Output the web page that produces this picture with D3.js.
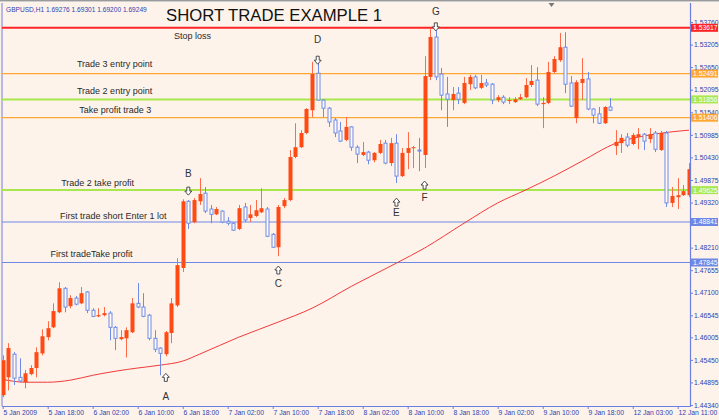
<!DOCTYPE html>
<html><head><meta charset="utf-8">
<script src="https://cdn.jsdelivr.net/npm/d3@7"></script>
<style>
html,body{margin:0;padding:0;background:#fdf3eb;}
svg{display:block;font-family:"Liberation Sans",Arial,sans-serif;}
</style></head><body>
<svg id="c" width="719" height="420"></svg>
<script>
// ---------- DATA ----------
const symbolHeader = "GBPUSD,H1  1.69276 1.69301 1.69200 1.69249";
const title = "SHORT TRADE EXAMPLE 1";

const open = [1.4458,1.4502,1.4559,1.4502,1.4490,1.4510,1.4525,1.4561,1.4601,1.4625,
1.4662,1.4721,1.4677,1.4697,1.4684,1.4712,1.4667,1.4652,1.4655,1.4660,
1.4625,1.4596,1.4598,1.4613,1.4684,1.4675,1.4655,1.4598,1.4574,1.4559,
1.4611,1.4679,1.4771,1.4935,1.4884,1.4935,1.4955,1.4916,1.4903,1.4911,
1.4886,1.4881,1.4867,1.4921,1.4894,1.4899,1.4908,1.4916,1.4854,1.4822,
1.4923,1.4938,1.5044,1.5068,1.5103,1.5159,1.5250,1.5184,1.5164,1.5135,
1.5108,1.5086,1.5118,1.5068,1.5049,1.5056,1.5036,1.5054,1.5078,1.5029,
1.5078,1.4997,1.5054,1.5066,1.5061,1.5049,1.5241,1.5339,1.5248,1.5199,
1.5184,1.5201,1.5177,1.5223,1.5241,1.5214,1.5226,1.5223,1.5184,1.5191,
1.5182,1.5179,1.5186,1.5191,1.5221,1.5233,1.5174,1.5177,1.5253,1.5282,
1.5314,1.5226,1.5140,1.5226,1.5236,1.5162,1.5150,1.5127,1.5167,1.5071,
1.5078,1.5093,1.5076,1.5093,1.5100,1.5088,1.5103,1.5061,1.5103,1.4931,
1.4945,1.4950,1.4950];
const high = [1.4556,1.4586,1.4564,1.4549,1.4520,1.4532,1.4576,1.4620,1.4640,1.4684,
1.4736,1.4724,1.4704,1.4702,1.4724,1.4714,1.4672,1.4672,1.4675,1.4665,
1.4628,1.4618,1.4625,1.4697,1.4734,1.4709,1.4658,1.4618,1.4576,1.4616,
1.4697,1.4795,1.4940,1.4938,1.4943,1.4992,1.4970,1.4926,1.4921,1.4913,
1.4896,1.4884,1.4926,1.4931,1.4926,1.4938,1.4967,1.4921,1.4857,1.4926,
1.4943,1.5061,1.5127,1.5110,1.5164,1.5278,1.5278,1.5186,1.5167,1.5140,
1.5130,1.5142,1.5120,1.5073,1.5081,1.5059,1.5056,1.5086,1.5086,1.5091,
1.5100,1.5066,1.5105,1.5071,1.5091,1.5292,1.5361,1.5369,1.5263,1.5241,
1.5216,1.5216,1.5241,1.5246,1.5246,1.5246,1.5236,1.5226,1.5196,1.5196,
1.5191,1.5191,1.5199,1.5238,1.5270,1.5265,1.5191,1.5278,1.5292,1.5349,
1.5351,1.5243,1.5233,1.5287,1.5253,1.5164,1.5167,1.5169,1.5189,1.5110,
1.5100,1.5103,1.5103,1.5115,1.5103,1.5115,1.5108,1.5108,1.5108,1.4970,
1.4992,1.4975,1.5029];
const low = [1.4453,1.4470,1.4483,1.4490,1.4475,1.4507,1.4502,1.4556,1.4593,1.4623,
1.4660,1.4662,1.4672,1.4679,1.4682,1.4660,1.4650,1.4650,1.4652,1.4593,
1.4569,1.4593,1.4551,1.4611,1.4672,1.4650,1.4593,1.4564,1.4507,1.4554,
1.4586,1.4675,1.4761,1.4867,1.4881,1.4926,1.4906,1.4881,1.4901,1.4881,
1.4876,1.4862,1.4864,1.4884,1.4884,1.4896,1.4906,1.4847,1.4820,1.4800,
1.4918,1.4935,1.5041,1.5066,1.5100,1.5142,1.5182,1.5142,1.5118,1.5093,
1.5081,1.5083,1.5059,1.5029,1.5046,1.5026,1.5031,1.5051,1.5026,1.5022,
1.4980,1.4995,1.5014,1.5017,1.5009,1.5017,1.5233,1.5233,1.5159,1.5118,
1.5159,1.5174,1.5174,1.5209,1.5211,1.5211,1.5216,1.5174,1.5179,1.5174,
1.5174,1.5177,1.5184,1.5189,1.5216,1.5169,1.5115,1.5174,1.5250,1.5278,
1.5201,1.5167,1.5127,1.5184,1.5159,1.5127,1.5125,1.5125,1.5157,1.5049,
1.5054,1.5068,1.5073,1.5063,1.5061,1.5078,1.5056,1.5059,1.4921,1.4921,
1.4916,1.4948,1.4945];
const close = [1.4544,1.4574,1.4500,1.4493,1.4512,1.4525,1.4564,1.4603,1.4623,1.4665,
1.4721,1.4675,1.4697,1.4682,1.4709,1.4667,1.4652,1.4655,1.4660,1.4625,
1.4598,1.4601,1.4618,1.4684,1.4675,1.4652,1.4598,1.4571,1.4561,1.4613,
1.4684,1.4778,1.4935,1.4881,1.4938,1.4953,1.4911,1.4903,1.4916,1.4884,
1.4881,1.4864,1.4918,1.4889,1.4903,1.4913,1.4918,1.4849,1.4822,1.4921,
1.4938,1.5044,1.5068,1.5103,1.5162,1.5248,1.5184,1.5164,1.5130,1.5103,
1.5083,1.5118,1.5068,1.5051,1.5056,1.5036,1.5054,1.5076,1.5029,1.5078,
1.4997,1.5054,1.5066,1.5068,1.5059,1.5243,1.5339,1.5241,1.5196,1.5186,
1.5199,1.5186,1.5226,1.5241,1.5214,1.5226,1.5221,1.5184,1.5191,1.5179,
1.5184,1.5186,1.5191,1.5221,1.5231,1.5174,1.5177,1.5253,1.5285,1.5314,
1.5223,1.5169,1.5228,1.5236,1.5162,1.5147,1.5127,1.5167,1.5159,1.5081,
1.5091,1.5073,1.5098,1.5100,1.5083,1.5100,1.5063,1.5103,1.4931,1.4948,
1.4950,1.4960,1.5014];

// moving average (sampled at bars)
const maBars   = [0,4,8,12,16,20,24,28,32,35,42,49,55,62,70,75,82,88,93,98,103,109,115,122];
const maValues = [1.4497,1.4490,1.4490,1.4495,1.4507,1.4517,1.4525,1.4532,1.4542,1.4559,1.4601,1.4638,1.4672,1.4726,1.4783,1.4820,1.4881,1.4931,1.4963,1.4997,1.5034,1.5078,1.5098,1.5110];

// horizontal price levels
const levelPrices = [1.53617,1.52491,1.51856,1.51406,1.49625,1.48841,1.47845];
const levelKinds  = ["stop","orange","green","orange","green","blue","blue"];

// axis ticks (1.48765 is hidden behind the 1.48841 box in the original)
const yTicks = [1.53760,1.53205,1.52650,1.52095,1.51540,1.50985,1.50430,1.49875,1.49320,1.48210,1.47655,1.47100,1.46545,1.46005,1.45450,1.44895,1.44340];
const xTickBars = [0,8,16,24,32,40,48,56,64,72,80,88,96,104,112,120];
const xTickLabels = ["5 Jan 2009","5 Jan 18:00","6 Jan 02:00","6 Jan 10:00","6 Jan 18:00","7 Jan 02:00","7 Jan 10:00","7 Jan 18:00","8 Jan 02:00","8 Jan 10:00","8 Jan 18:00","9 Jan 02:00","9 Jan 10:00","9 Jan 18:00","12 Jan 03:00","12 Jan 11:00"];

// arrow marks
const markLetters = ["A","B","C","D","E","F","G"];
const markBars    = [29,33,49,56,70,75,77];
const markDirs    = ["up","down","up","down","up","up","down"];
const markPrices  = [1.4502,1.4960,1.4766,1.5282,1.4933,1.4975,1.5364];
const letterPrices= [1.4456,1.5004,1.4734,1.5332,1.4908,1.4945,1.5401];

// text notes
const noteTexts  = ["Stop loss","Trade 3 entry point","Trade 2 entry point","Take profit trade 3","Trade 2 take profit","First trade short Enter 1 lot","First tradeTake profit"];
const noteBars   = [30.45,13.2,13.2,13.6,10.4,10.2,8.5];
const notePrices = [1.5342,1.5273,1.5206,1.5159,1.4980,1.4899,1.4805];

// ---------- DRAW ----------
const W = 719, H = 420;
const plotL = 2, plotR = 690, plotT = 3, plotB = 406;
const svg = d3.select("#c");
const x = d3.scaleLinear().domain([0,122]).range([2.7, 2.7 + 5.625*122]);
const y = d3.scaleLinear().domain([1.4434,1.5376]).range([405,22]);

const colUp = "#ff4a14", colDn = "#6e8ce6", axisCol = "#6b7fe0", labCol = "#2f3fb0";
const levelStyle = {
  stop:  {c:"#ff2424", w:2},
  orange:{c:"#ffa733", w:1.3},
  green: {c:"#a9e84c", w:2},
  blue:  {c:"#6f88e6", w:1.2}
};

svg.append("rect").attr("width",W).attr("height",H).attr("fill","#fdf3eb");
svg.append("defs").append("clipPath").attr("id","pc")
  .append("rect").attr("x",plotL).attr("y",plotT).attr("width",plotR-plotL).attr("height",plotB-plotT);

// window frame
svg.append("line").attr("x1",0).attr("x2",W).attr("y1",0.5).attr("y2",0.5).attr("stroke","#9a9a9a");
svg.append("line").attr("x1",0).attr("x2",W).attr("y1",1.5).attr("y2",1.5).attr("stroke","#cfcfcf");
svg.append("line").attr("x1",plotL).attr("x2",plotL).attr("y1",plotT).attr("y2",plotB).attr("stroke",axisCol);
svg.append("path").attr("d","M548.5,3 L554.5,3 L551.5,7 Z").attr("fill","#777");

const plot = svg.append("g").attr("clip-path","url(#pc)");

// levels
plot.selectAll("line.lvl").data(levelPrices).join("line").attr("class","lvl")
  .attr("x1",plotL).attr("x2",plotR)
  .attr("y1",d=>y(d)).attr("y2",d=>y(d))
  .attr("stroke",(d,i)=>levelStyle[levelKinds[i]].c)
  .attr("stroke-width",(d,i)=>levelStyle[levelKinds[i]].w);

// MA
const maPts = maBars.map((b,i)=>[b,maValues[i]]);
plot.append("path").datum(maPts)
  .attr("d", d3.line().x(d=>x(d[0])).y(d=>y(d[1])).curve(d3.curveMonotoneX))
  .attr("fill","none").attr("stroke","#f23a3a").attr("stroke-width",1);

// candles
const bars = open.map((o,i)=>({i, o, h:high[i], l:low[i], c:close[i], up: close[i] >= o}));
const cg = plot.append("g");
cg.selectAll("line.wick").data(bars).join("line").attr("class","wick")
  .attr("x1",d=>Math.round(x(d.i))+0.5).attr("x2",d=>Math.round(x(d.i))+0.5)
  .attr("y1",d=>y(d.h)).attr("y2",d=>y(d.l))
  .attr("stroke",d=>d.up ? "#ff6a48" : colDn).attr("stroke-width",1);
cg.selectAll("rect.body").data(bars).join("rect").attr("class","body")
  .attr("x",d=> d.up ? Math.round(x(d.i))-1.5 : Math.round(x(d.i))-1)
  .attr("width",d=> d.up ? 4 : 3)
  .attr("y",d=>Math.min(y(d.o),y(d.c)))
  .attr("height",d=>Math.max(1, Math.abs(y(d.o)-y(d.c))))
  .attr("fill",d=>d.up ? colUp : "#fffaf6")
  .attr("stroke",d=>d.up ? "none" : colDn).attr("stroke-width",1);

// arrows and letters
const upArrow = "M0,-4 L3.5,0 L1.5,0 L1.5,4 L-1.5,4 L-1.5,0 L-3.5,0 Z";
const dnArrow = "M0,4 L3.5,0 L1.5,0 L1.5,-4 L-1.5,-4 L-1.5,0 L-3.5,0 Z";
plot.selectAll("path.mk").data(markBars).join("path").attr("class","mk")
  .attr("transform",(b,i)=>`translate(${x(b)},${y(markPrices[i])})`)
  .attr("d",(b,i)=>markDirs[i]==="up"?upArrow:dnArrow)
  .attr("fill","#fff").attr("stroke","#3a3a3a").attr("stroke-width",0.9);
svg.selectAll("text.lt").data(markLetters).join("text").attr("class","lt")
  .attr("x",(d,i)=>x(markBars[i])).attr("y",(d,i)=>y(letterPrices[i]))
  .attr("text-anchor","middle").attr("dominant-baseline","central")
  .attr("font-size",10).attr("fill","#333").text(d=>d);

// notes
svg.selectAll("text.nt").data(noteTexts).join("text").attr("class","nt")
  .attr("x",(d,i)=>x(noteBars[i])).attr("y",(d,i)=>y(notePrices[i]))
  .attr("dominant-baseline","central")
  .attr("font-size",9).attr("fill","#2a2a2a").text(d=>d);

// title and header
svg.append("text").attr("x",166).attr("y",21).attr("font-size",16)
  .attr("textLength",216).attr("lengthAdjust","spacingAndGlyphs")
  .attr("fill","#111").text(title);
svg.append("text").attr("x",6).attr("y",12).attr("font-size",6.6).attr("fill",labCol).text(symbolHeader);

// right axis
const ya = svg.append("g").attr("transform",`translate(${plotR},0)`)
  .call(d3.axisRight(y).tickValues(yTicks).tickSize(3).tickSizeOuter(0).tickPadding(1).tickFormat(d=>d.toFixed(5)));
ya.select(".domain").remove();
ya.selectAll("line").attr("stroke",axisCol);
ya.selectAll("text").attr("font-size",6.8).attr("fill",labCol).attr("font-family","Liberation Sans, Arial");
svg.append("line").attr("x1",plotR+0.5).attr("x2",plotR+0.5).attr("y1",plotT).attr("y2",plotB).attr("stroke",axisCol).attr("stroke-width",1.2);

// bottom axis
const xa = svg.append("g").attr("transform",`translate(0,${plotB})`)
  .call(d3.axisBottom(x).tickValues(xTickBars).tickSize(3).tickSizeOuter(0).tickPadding(1.5).tickFormat((d,i)=>xTickLabels[i]));
xa.select(".domain").remove();
xa.selectAll("line").attr("stroke",axisCol);
xa.selectAll("text").attr("text-anchor","start").attr("dx",0.3).attr("font-size",6.8).attr("fill",labCol).attr("font-family","Liberation Sans, Arial");
svg.append("line").attr("x1",plotL).attr("x2",plotR+1).attr("y1",plotB+0.5).attr("y2",plotB+0.5).attr("stroke",axisCol).attr("stroke-width",1.2);

// level price boxes
const bx = svg.append("g");
bx.selectAll("rect").data(levelPrices).join("rect")
  .attr("x",plotR+1).attr("width",W-plotR-2).attr("y",d=>y(d)-4).attr("height",8)
  .attr("fill",(d,i)=>levelStyle[levelKinds[i]].c);
bx.selectAll("text").data(levelPrices).join("text")
  .attr("x",plotR+3).attr("y",d=>y(d)).attr("dominant-baseline","central")
  .attr("font-size",6.8).attr("fill","#fff").text(d=>d.toFixed(5));
</script>
</body></html>
